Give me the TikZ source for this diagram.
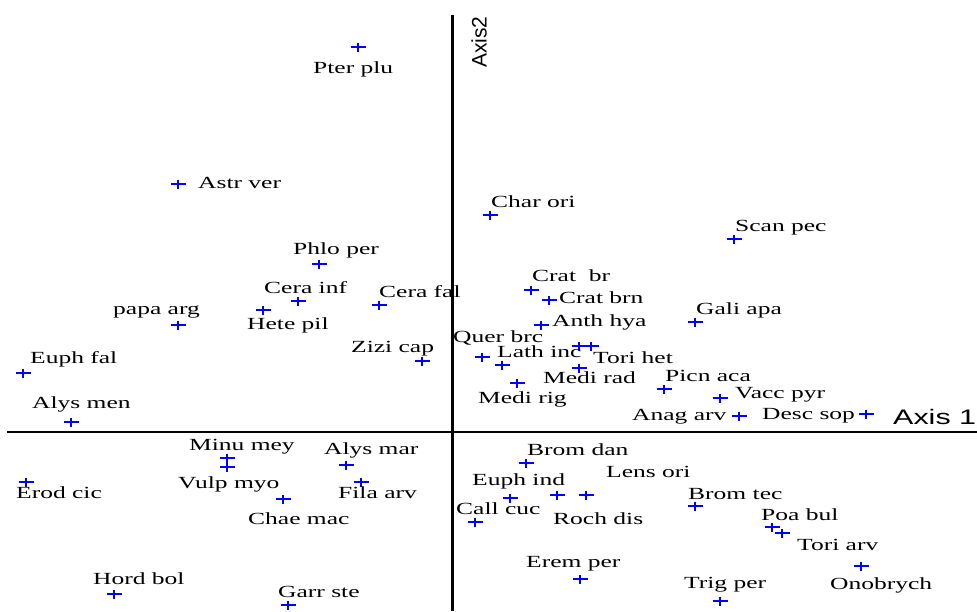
\documentclass[tikz,border=0pt]{standalone}
\usepackage{fontspec}
\usepackage{graphicx}
\setmainfont{Liberation Serif}
\newfontfamily\axfont{Liberation Sans}
\newcommand{\wide}[1]{\scalebox{1.5}[1]{#1}}
\tikzset{
  lbl/.style={anchor=west, inner sep=0pt, text height=12pt, text depth=0pt, font=\rmfamily\fontsize{17}{17}\selectfont},
  axlbl/.style={inner sep=0pt, font=\axfont\fontsize{21}{21}\selectfont},
  axisline/.style={draw=black, line width=3pt},
  pls/.pic={\draw[blue, line width=1.3pt] (-7.5,0) -- (7.5,0) (0,-4.5) -- (0,4.5);}
}
\begin{document}
\begin{tikzpicture}[x=1pt,y=-1pt]
\useasboundingbox (0,0) rectangle (977,611);
% axes
\coordinate (vtop) at (452,15);
\coordinate (vbot) at (452,611);
\coordinate (hl) at (7,432);
\coordinate (hr) at (977,432);
\draw[axisline] (vtop) -- (vbot);
\draw[axisline, line width=2.5pt] (hl) -- (hr);
\node[axlbl, anchor=west, text height=15pt, text depth=0pt] (ax1) at (893,417) {\scalebox{1.45}[1]{Axis 1}};
\node[axlbl, rotate=90] (ax2) at (479,42) {Axis2};
% markers
\foreach \px/\py in {358/47,178/184,490/215,734/239,319/264,531/290,298/301,379/305,549/300,263/310,
  178/325,695/322,541/325,482/357,502/365,422/361,579/346,591/346,579/368,517/383,664/389,720/398,
  739/416,866/414,23/373,71/422,227/458,227/467,346/465,526/463,510/498,557/495,586/495,695/506,
  475/522,772/527,782/533,861/566,580/579,720/601,26/482,361/482,283/499,114/594,288/605}
  \pic at (\px,\py) {pls};
% labels
\node[lbl] (l1) at (313,67) {\wide{Pter plu}};
\node[lbl] (l2) at (198,182) {\wide{Astr ver}};
\node[lbl] (l3) at (491,201) {\wide{Char ori}};
\node[lbl] (l4) at (735,225) {\wide{Scan pec}};
\node[lbl] (l5) at (293,248) {\wide{Phlo per}};
\node[lbl] (l6) at (532,275) {\wide{Crat\ \ br}};
\node[lbl] (l7) at (264,287) {\wide{Cera inf}};
\node[lbl] (l8) at (379,291) {\wide{Cera fal}};
\node[lbl] (l9) at (559,297) {\wide{Crat brn}};
\node[lbl] (l10) at (113,308) {\wide{papa arg}};
\node[lbl] (l11) at (696,308) {\wide{Gali apa}};
\node[lbl] (l12) at (552,320) {\wide{Anth hya}};
\node[lbl] (l13) at (247,323) {\wide{Hete pil}};
\node[lbl] (l14) at (453,336) {\wide{Quer brc}};
\node[lbl] (l15) at (351,346) {\wide{Zizi cap}};
\node[lbl] (l16) at (497,351) {\wide{Lath inc}};
\node[lbl] (l17) at (30,357) {\wide{Euph fal}};
\node[lbl] (l18) at (593,357) {\wide{Tori het}};
\node[lbl] (l19) at (665,375) {\wide{Picn aca}};
\node[lbl] (l20) at (543,377) {\wide{Medi rad}};
\node[lbl] (l21) at (735,392) {\wide{Vacc pyr}};
\node[lbl] (l22) at (478,397) {\wide{Medi rig}};
\node[lbl] (l23) at (32,402) {\wide{Alys men}};
\node[lbl] (l24) at (762,413) {\wide{Desc sop}};
\node[lbl] (l25) at (632,414) {\wide{Anag arv}};
\node[lbl] (l26) at (189,444) {\wide{Minu mey}};
\node[lbl] (l27) at (324,448) {\wide{Alys mar}};
\node[lbl] (l28) at (527,449) {\wide{Brom dan}};
\node[lbl] (l29) at (606,471) {\wide{Lens ori}};
\node[lbl] (l30) at (472,479) {\wide{Euph ind}};
\node[lbl] (l31) at (178,482) {\wide{Vulp myo}};
\node[lbl] (l32) at (16,492) {\wide{Erod cic}};
\node[lbl] (l33) at (338,492) {\wide{Fila arv}};
\node[lbl] (l34) at (688,493) {\wide{Brom tec}};
\node[lbl] (l35) at (456,508) {\wide{Call cuc}};
\node[lbl] (l36) at (761,514) {\wide{Poa bul}};
\node[lbl] (l37) at (553,518) {\wide{Roch dis}};
\node[lbl] (l38) at (248,518) {\wide{Chae mac}};
\node[lbl] (l39) at (797,544) {\wide{Tori arv}};
\node[lbl] (l40) at (526,561) {\wide{Erem per}};
\node[lbl] (l41) at (93,578) {\wide{Hord bol}};
\node[lbl] (l42) at (684,582) {\wide{Trig per}};
\node[lbl] (l43) at (830,583) {\wide{Onobrych}};
\node[lbl] (l44) at (278,591) {\wide{Garr ste}};
\end{tikzpicture}
\end{document}
